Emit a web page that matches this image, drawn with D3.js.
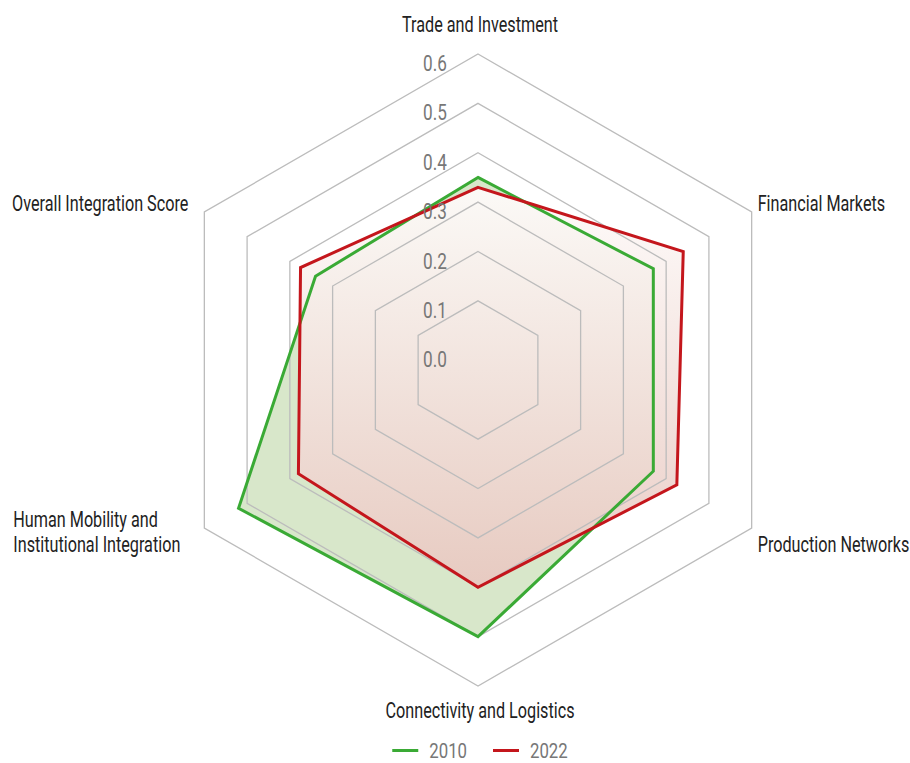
<!DOCTYPE html>
<html>
<head>
<meta charset="utf-8">
<script src="https://cdn.jsdelivr.net/npm/d3@7"></script>
<style>
  html, body { margin: 0; padding: 0; background: #fff; }
  svg { display: block; font-family: Roboto, "Noto Sans", sans-serif; }
</style>
</head>
<body>
<svg id="chart" width="910" height="763"></svg>
<script>
// axis names, clockwise from the top
const axes = ["Trade and Investment", "Financial Markets", "Production Networks",
              "Connectivity and Logistics", "Human Mobility and\nInstitutional Integration",
              "Overall Integration Score"];
const years = ["2010", "2022"];
const values2010 = [0.35, 0.37, 0.37, 0.50, 0.52, 0.34];
const values2022 = [0.33, 0.44, 0.425, 0.40, 0.38, 0.375];
const ticks = [0.0, 0.1, 0.2, 0.3, 0.4, 0.5, 0.6];

const cx = 478, cy = 370, R = 316;
const green = "#3aaa35", red = "#c4161c";
const squeeze = 0.72; // condensed look

const svg = d3.select("#chart");
const r = d3.scaleLinear().domain([-0.04, 0.6]).range([0, R]);
const angle = d3.scalePoint().domain(d3.range(axes.length)).range([0, 2 * Math.PI * (axes.length - 1) / axes.length]);

function pt(i, v) {
  const a = angle(i);
  return [cx + r(v) * Math.sin(a), cy - r(v) * Math.cos(a)];
}
const line = d3.line().curve(d3.curveLinearClosed);

// narrow text: placed in a group squeezed horizontally
function label(parent, x, y, txt, size, fill, anchor, k) {
  const gg = parent.append("g").attr("transform", `translate(${x},${y}) scale(${k},1)`);
  return gg.append("text")
    .attr("font-size", size)
    .attr("fill", fill)
    .attr("text-anchor", anchor)
    .text(txt);
}

const defs = svg.append("defs");
const grad = defs.append("linearGradient").attr("id", "redFill")
  .attr("x1", 0).attr("y1", 0).attr("x2", 0).attr("y2", 1);
grad.append("stop").attr("offset", 0).attr("stop-color", "#fefbfa");
grad.append("stop").attr("offset", 1).attr("stop-color", "#e8c8c0");

const g = svg.append("g");

// filled areas
g.append("path")
  .attr("d", line(values2010.map((v, i) => pt(i, v))))
  .attr("fill", "#d8e7ca");
g.append("path")
  .attr("d", line(values2022.map((v, i) => pt(i, v))))
  .attr("fill", "url(#redFill)")
  .attr("fill-opacity", 0.93);

// grid rings (0.1 .. 0.6)
g.append("g").selectAll("path")
  .data(ticks.filter(t => t > 0))
  .join("path")
  .attr("d", t => line(axes.map((_, i) => pt(i, t))))
  .attr("fill", "none")
  .attr("stroke", "#bcbcbc")
  .attr("stroke-width", 1.3);

// series outlines
[[values2010, green], [values2022, red]].forEach(([vals, col]) => {
  g.append("path")
    .attr("d", line(vals.map((v, i) => pt(i, v))))
    .attr("fill", "none")
    .attr("stroke", col)
    .attr("stroke-width", 3);
});

// tick labels
const tickG = g.append("g");
ticks.forEach(t => {
  label(tickG, cx - 55, cy - r(t) + 17, d3.format(".1f")(t), 22, "#777", "start", 0.78);
});

// axis labels
axes.forEach((name, i) => {
  const a = angle(i);
  const s = Math.sin(a), c = Math.cos(a);
  const lines = name.split("\n");
  const vx = cx + R * s, vy = cy - R * c;
  if (Math.abs(s) < 0.01) {
    const y = c > 0 ? vy - 22 : vy + 32;
    label(g, vx + 2, y, name, 22.5, "#222", "middle", squeeze);
    return;
  }
  const y0 = vy + (c > 0 ? -1 : 24) - (lines.length - 1) * 25;
  if (lines.length === 1) {
    label(g, s > 0 ? vx + 6 : vx - 16, y0, name, 22.5, "#222", s > 0 ? "start" : "end", squeeze);
  } else {
    // right-edge the block, left-align the lines
    const texts = lines.map((ln, k) => label(g, 0, y0 + k * 25, ln, 22.5, "#222", "start", squeeze));
    const w = d3.max(texts, t => t.node().getComputedTextLength()) * squeeze;
    const left = vx - 24 - w;
    texts.forEach((t, k) => t.node().parentNode.setAttribute("transform",
      `translate(${left},${y0 + k * 25}) scale(${squeeze},1)`));
  }
});

// legend
const legend = svg.append("g");
const items = [[years[0], green], [years[1], red]];
let lx = 0;
items.forEach(([lab, col]) => {
  const it = legend.append("g").attr("transform", `translate(${lx},0)`);
  it.append("line").attr("x1", 0).attr("x2", 26).attr("y1", 0).attr("y2", 0)
    .attr("stroke", col).attr("stroke-width", 3);
  const tx = label(it, 37, 7.5, lab, 21, "#777", "start", 0.8);
  lx += 37 + tx.node().getComputedTextLength() * 0.8 + 26;
});
const lw = lx - 26;
legend.attr("transform", `translate(${480 - lw / 2},750.5)`);
</script>
</body>
</html>
